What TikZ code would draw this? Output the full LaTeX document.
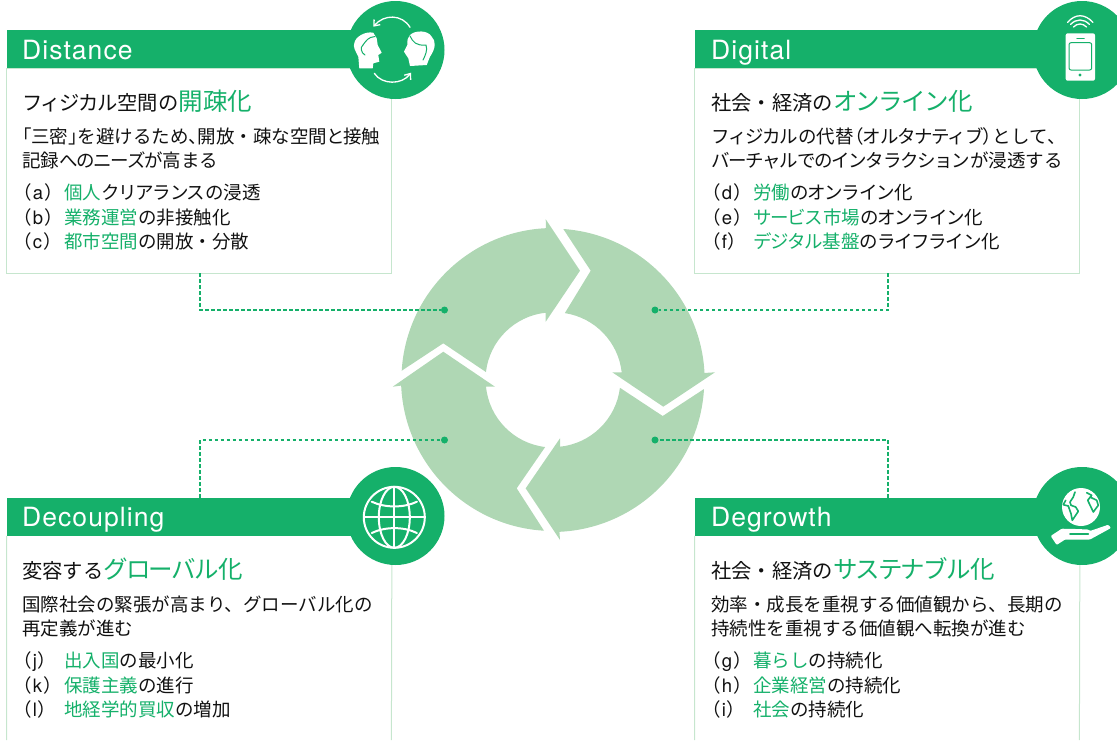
\documentclass[tikz,border=0pt]{standalone}
\usepackage{fontspec}
\setmainfont{Noto Sans CJK JP}
\newfontfamily\kanafont{Noto Sans CJK JP}[LetterSpace=-7]
\newfontfamily\tightfont{Noto Sans CJK JP}[RawFeature=+palt]
\newfontfamily\latinfont{TeX Gyre Heros}
\newfontfamily\namefont{TeX Gyre Heros}[LetterSpace=4]
\usetikzlibrary{arrows.meta}

\definecolor{leaf}{HTML}{15B06A}
\definecolor{ringgreen}{HTML}{AFD7B4}
\definecolor{paleline}{HTML}{C6E6CE}
\definecolor{ink}{HTML}{111111}

\newcommand{\hl}[1]{\textcolor{leaf}{#1}}
\newcommand{\hlbig}[1]{\textcolor{leaf}{\fontsize{24.5}{24.5}\selectfont #1}}
\newcommand{\kn}[1]{{\kanafont #1}}
\newcommand{\tg}[1]{{\tightfont #1}}
\newcommand{\itemtag}[1]{\makebox[42pt][l]{\tg{（}\hspace{1.5pt}{\latinfont #1}\hspace{1.5pt}\tg{）}}}

\tikzset{
	band/.style={fill=leaf,text=white,minimum width=385pt,minimum height=38pt,inner sep=0pt,anchor=north west},
	bandtext/.style={text=white,inner sep=0pt,anchor=base west,font=\namefont\fontsize{26.5}{26.5}\selectfont},
	panel/.style={draw=paleline,line width=1pt,minimum width=384.7pt,minimum height=205pt,inner sep=0pt,outer sep=0pt,anchor=north west},
	wall/.style={draw=paleline,line width=1pt},
	badge/.style={circle,fill=leaf,minimum size=98pt,inner sep=0pt},
	dot/.style={circle,fill=leaf,minimum size=7pt,inner sep=0pt},
	link/.style={draw=leaf,line width=1.5pt,dash pattern=on 3.5pt off 2.5pt},
	heading/.style={text=ink,inner sep=0pt,anchor=base west,font=\fontsize{20.3}{20.3}\selectfont},
	copy/.style={text=ink,inner sep=0pt,anchor=base west,font=\fontsize{18.5}{18.5}\selectfont},
	point/.style={text=ink,inner sep=0pt,anchor=base west,font=\fontsize{18.5}{18.5}\selectfont},
	ring/.style={fill=ringgreen},
	icon/.style={draw=white,line width=1.3pt,line cap=round,line join=round},
	iconfill/.style={fill=white},
	iconcut/.style={draw=leaf,line width=1.6pt,line cap=round,line join=round}
}

\begin{document}
\begin{tikzpicture}[x=1pt,y=1pt]
	\useasboundingbox (0,0) rectangle (1117,-740);

	% ring of four arrows
	\fill[ring] (401.7,-370.7) arc[start angle=176.5,end angle=92.8,radius=152pt] -- (545.7,-219.3) -- (580,-270.7) -- (545.7,-321.7) -- (545.7,-312.7) arc[start angle=96.2,end angle=173.4,radius=67.5pt] -- (443.3,-343.3) -- cycle;
	\fill[ring] (563.3,-229) arc[start angle=86,end angle=2.9,radius=152pt] -- (715,-372.3) -- (663.3,-406.7) -- (612.3,-372.3) -- (621.7,-372.3) arc[start angle=6.4,end angle=81.3,radius=67.5pt] -- (590.7,-270.7) -- cycle;
	\fill[ring] (704,-389) arc[start angle=-3.4,end angle=-87.3,radius=152pt] -- (560,-540) -- (525.7,-488.3) -- (560,-438.3) -- (560,-446.7) arc[start angle=-84,end angle=-7,radius=67.5pt] -- (662.7,-416) -- cycle;
	\fill[ring] (544,-530.7) arc[start angle=266.6,end angle=182.5,radius=152pt] -- (392.7,-386.7) -- (443.3,-351.7) -- (495,-386.7) -- (486,-386.7) arc[start angle=185.7,end angle=263.2,radius=67.5pt] -- (516.7,-488.3) -- cycle;

	% panels
	\node[panel] (box1) at (6.7,-68) {};
	\node[panel] (box2) at (694.7,-68) {};
	\node[band] (band1) at (6.5,-30) {};
	\node[band] (band2) at (694.5,-30) {};
	\node[band] (band3) at (6.5,-497.5) {};
	\node[band] (band4) at (694.5,-497.5) {};
	\coordinate (foot3a) at (6.7,-740);
	\coordinate (foot3b) at (391.4,-740);
	\coordinate (foot4a) at (694.7,-740);
	\coordinate (foot4b) at (1079.4,-740);
	\draw[wall] (band3.south west) -- (foot3a);
	\draw[wall] (band3.south east) -- (foot3b);
	\draw[wall] (band4.south west) -- (foot4a);
	\draw[wall] (band4.south east) -- (foot4b);

	\node[badge] (badge1) at (395.5,-50) {};
	\node[badge] (badge2) at (1082,-50) {};
	\node[badge] (badge3) at (395.5,-516) {};
	\node[badge] (badge4) at (1082,-516) {};

	% dotted links
	\node[dot] (dot1) at (444.5,-310) {};
	\node[dot] (dot2) at (655,-310) {};
	\node[dot] (dot3) at (444.5,-440) {};
	\node[dot] (dot4) at (655,-440) {};
	\draw[link] ([xshift=1pt]box1.south) |- (dot1);
	\draw[link] ([xshift=1pt]box2.south) |- (dot2);
	\draw[link] ([xshift=1pt]band3.north) |- (dot3);
	\draw[link] ([xshift=1pt]band4.north) |- (dot4);

	% texts
	\node[bandtext] (name1) at (22,-59) {Distance};
	\node[bandtext] (name2) at (711,-59) {Digital};
	\node[bandtext] (name3) at (22,-526) {Decoupling};
	\node[bandtext] (name4) at (711,-526) {Degrowth};

	\node[heading] (title1) at (22,-110) {\kn{フィジカル}空間の\hlbig{開疎化}};
	\node[copy] (copy1a) at (22,-143) {\tg{「}三密\tg{」}を避けるため\tg{、}開放・\tg{疎な空間と接触}};
	\node[copy] (copy1b) at (22,-167) {記録\kn{へのニーズが}高まる};
	\node[point] (item1a) at (22,-199) {\itemtag{a}\hl{個人}\kn{クリアランス}の浸透};
	\node[point] (item1b) at (22,-224) {\itemtag{b}\hl{業務運営}の非接触化};
	\node[point] (item1c) at (22,-248) {\itemtag{c}\hl{都市空間}の開放・分散};

	\node[heading] (title2) at (711,-110) {社会・経済の\hlbig{\kn{オンライン}化}};
	\node[copy] (copy2a) at (711,-143) {\kn{フィジカル}の代替\tg{（}\kn{オルタナティブ}\tg{）}として\tg{、}};
	\node[copy] (copy2b) at (711,-167) {\kn{バーチャルでのインタラクション}が浸透する};
	\node[point] (item2a) at (711,-199) {\itemtag{d}\hl{労働}\kn{のオンライン}化};
	\node[point] (item2b) at (711,-224) {\itemtag{e}\hl{\kn{サービス}市場}\kn{のオンライン}化};
	\node[point] (item2c) at (711,-248) {\itemtag{f}\hl{\kn{デジタル}基盤}\kn{のライフライン}化};

	\node[heading] (title3) at (22,-578) {変容する\hlbig{\kn{グローバル}化}};
	\node[copy] (copy3a) at (22,-611) {国際社会の緊張が高まり、グローバル化の};
	\node[copy] (copy3b) at (22,-635) {再定義が進む};
	\node[point] (item3a) at (22,-667) {\itemtag{j}\hl{出入国}の最小化};
	\node[point] (item3b) at (22,-692) {\itemtag{k}\hl{保護主義}の進行};
	\node[point] (item3c) at (22,-716) {\itemtag{l}\hl{地経学的買収}の増加};

	\node[heading] (title4) at (711,-578) {社会・経済の\hlbig{\kn{サステナブル}化}};
	\node[copy] (copy4a) at (711,-611) {効率・成長を重視する価値観から、長期の};
	\node[copy] (copy4b) at (711,-635) {持続性を重視する価値観へ転換が進む};
	\node[point] (item4a) at (711,-667) {\itemtag{g}\hl{暮らし}の持続化};
	\node[point] (item4b) at (711,-692) {\itemtag{h}\hl{企業経営}の持続化};
	\node[point] (item4c) at (711,-716) {\itemtag{i}\hl{社会}の持続化};

	% two faces
	\fill[iconfill] (359.3,-68.3) -- (358.3,-56.7) .. controls (355,-50) and (353,-47) .. (354.3,-43.3) .. controls (355,-37) and (365,-31) .. (373.3,-32.7) -- (376.7,-38.3) -- (377.7,-45) -- (381.7,-52.7) -- (378.3,-55) -- (379.3,-61.7) -- (373.3,-63.3) -- (372.7,-68.3) -- cycle;
	\draw[iconcut,line width=1pt] (363,-45) .. controls (366,-41) and (368,-37) .. (375,-36.5);
	\draw[iconcut,line width=1pt] (363,-45) .. controls (360,-47) and (361,-53) .. (365,-55);
	\fill[iconfill] (426.7,-65) -- (410,-66) -- (408.3,-58.3) -- (404,-51.7) -- (407.3,-45) .. controls (407,-40) and (408,-37) .. (410,-35) .. controls (415,-30) and (428,-30) .. (431.7,-36.7) .. controls (436,-41) and (436,-48) .. (430,-56.7) -- cycle;
	\draw[iconcut,line width=1pt] (410,-36) .. controls (413,-42) and (416,-46) .. (426,-45) .. controls (428,-50) and (425,-56) .. (423,-60);
	\draw[icon,-{Straight Barb[length=5pt,width=8pt]}] (410,-27.3) .. controls (402,-14) and (384,-14) .. (373.3,-26.7);
	\draw[icon,-{Straight Barb[length=5pt,width=8pt]}] (374.3,-73.3) .. controls (382,-85) and (402,-85) .. (411,-72.7);

	% phone
	\fill[iconfill,rounded corners=2pt] (1065.7,-33.3) rectangle (1095,-80.7);
	\draw[iconcut,line width=1pt,rounded corners=2pt] (1069,-42.7) rectangle (1091.7,-70);
	\draw[iconcut,line width=1.5pt] (1077,-38.5) -- (1084,-38.5);
	\fill[leaf] (1080,-75) circle (1.6pt);
	\draw[icon] (1067.5,-22.5) .. controls (1075,-13.5) and (1085,-13.5) .. (1093,-22.5);
	\draw[icon] (1070.5,-24.5) .. controls (1076,-18.5) and (1084,-18.5) .. (1089.5,-24.5);
	\draw[icon] (1073.5,-27) .. controls (1077,-23) and (1083,-23) .. (1086.5,-27);

	% globe
	\draw[icon,line width=2pt] (394.3,-517.3) circle (30.5pt);
	\draw[icon,line width=2pt] (394.3,-517.3) ellipse (15.5pt and 30.5pt);
	\draw[icon,line width=2pt] (394.3,-486.8) -- (394.3,-547.8);
	\draw[icon,line width=2pt] (363.8,-517.3) -- (424.8,-517.3);
	\draw[icon,line width=2pt] (371.7,-501.7) .. controls (385,-508) and (404,-508) .. (416.9,-501.7);
	\draw[icon,line width=2pt] (371.7,-533) .. controls (385,-526.5) and (404,-526.5) .. (416.9,-533);

	% earth on a hand
	\fill[iconfill] (1081,-507) circle (19pt);
	\draw[iconcut] (1065.7,-500.3) -- (1063.3,-504.7) -- (1068.3,-506) -- (1071,-513.7) -- (1072.3,-520.3) -- (1078.3,-511.3) -- (1075.7,-507) -- (1071,-505.3) -- (1070,-502) -- (1073.3,-497) -- (1075,-492);
	\draw[iconcut] (1086.7,-492.7) -- (1091.7,-495.3) -- (1087.7,-500.3) -- (1093.3,-512) -- (1098.3,-505.3) -- (1096.7,-500.3) -- (1090,-497);
	\fill[iconfill,rounded corners=1pt] (1050.7,-536) -- (1061.7,-528.7) -- (1076,-529) -- (1088.3,-529.5) -- (1090,-531) -- (1108.3,-524.7) -- (1111,-528) -- (1090,-539.5) -- (1065,-539.5) -- (1056.7,-545) -- cycle;
	\draw[iconcut] (1070,-534) -- (1088.3,-534);
\end{tikzpicture}
\end{document}
